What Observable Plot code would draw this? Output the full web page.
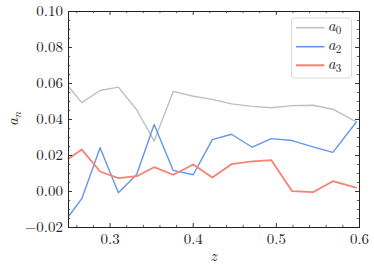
<!DOCTYPE html>
<html><head><meta charset="utf-8">
<script src="https://cdn.jsdelivr.net/npm/d3@7"></script>
<script src="https://cdn.jsdelivr.net/npm/@observablehq/plot@0.6"></script>
<style>
body{margin:0;background:#fff;}
</style>
</head><body><div id="chart"></div>
<script>
// ---- data ----
const z  = [0.25, 0.266, 0.288, 0.31, 0.332, 0.353, 0.376, 0.40, 0.423, 0.446, 0.471, 0.494, 0.519, 0.544, 0.568, 0.596];
const a0 = [0.0583, 0.0494, 0.0561, 0.0580, 0.0454, 0.0280, 0.0556, 0.0529, 0.0512, 0.0487, 0.0473, 0.0465, 0.0477, 0.0479, 0.0457, 0.0387];
const a2 = [-0.0139, -0.0040, 0.0243, -0.0007, 0.0094, 0.0372, 0.0117, 0.0093, 0.0288, 0.0318, 0.0246, 0.0294, 0.0283, 0.0248, 0.0217, 0.0385];
const a3 = [0.0182, 0.0233, 0.0111, 0.0074, 0.0085, 0.0135, 0.0093, 0.0150, 0.0078, 0.0152, 0.0167, 0.0174, 0.0002, -0.0004, 0.0057, 0.0022];

const seriesNames = ["0", "2", "3"];
const seriesColors = ["#bfbfbf", "#6495ed", "#fa8072"];
const seriesWidths = [1.4, 1.4, 1.8];
const seriesValues = [a0, a2, a3];

const xMajor = [0.3, 0.4, 0.5, 0.6];
const xMinor = [0.26, 0.28, 0.32, 0.34, 0.36, 0.38, 0.42, 0.44, 0.46, 0.48, 0.52, 0.54, 0.56, 0.58];
const yMajor = [-0.02, 0.00, 0.02, 0.04, 0.06, 0.08, 0.10];
const yMinor = [-0.015, -0.01, -0.005, 0.005, 0.01, 0.015, 0.025, 0.03, 0.035, 0.045, 0.05, 0.055, 0.065, 0.07, 0.075, 0.085, 0.09, 0.095];

// ---- layout ----
const W = 374, H = 271, mL = 68, mR = 15, mT = 11, mB = 44;
const pw = W - mL - mR, ph = H - mT - mB;
const ink = "#222";
const fs = 15;
const fontName = "Latin Modern Roman";

const lineMarks = seriesValues.map((vals, k) =>
  Plot.line(z.map((x, i) => ({z: x, a: vals[i]})), {x: "z", y: "a", stroke: seriesColors[k], strokeWidth: seriesWidths[k], strokeLinejoin: "round"})
);

const fmtY = d => (d < -1e-9 ? "\u2212" : "") + Math.abs(d).toFixed(2);

const chart = Plot.plot({
  width: W, height: H,
  marginLeft: mL, marginRight: mR, marginTop: mT, marginBottom: mB,
  x: {domain: [0.25, 0.6]},
  y: {domain: [-0.02, 0.10]},
  style: {fontSize: fs + "px", color: ink, background: "#fff", overflow: "visible"},
  marks: [
    ...lineMarks,
    Plot.tickX(xMajor, {x: d => d, insetTop: ph - 4, stroke: ink, strokeWidth: 0.9}),
    Plot.tickX(xMajor, {x: d => d, insetBottom: ph - 4, stroke: ink, strokeWidth: 0.9}),
    Plot.tickX(xMinor, {x: d => d, insetTop: ph - 2.2, stroke: ink, strokeWidth: 0.7}),
    Plot.tickX(xMinor, {x: d => d, insetBottom: ph - 2.2, stroke: ink, strokeWidth: 0.7}),
    Plot.tickY(yMajor, {y: d => d, insetRight: pw - 4, stroke: ink, strokeWidth: 0.9}),
    Plot.tickY(yMajor, {y: d => d, insetLeft: pw - 4, stroke: ink, strokeWidth: 0.9}),
    Plot.tickY(yMinor, {y: d => d, insetRight: pw - 2.2, stroke: ink, strokeWidth: 0.7}),
    Plot.tickY(yMinor, {y: d => d, insetLeft: pw - 2.2, stroke: ink, strokeWidth: 0.7}),
    Plot.axisX(xMajor, {tickSize: 0, tickPadding: 6, tickFormat: d => d.toFixed(1), fontSize: fs, fill: ink, label: null}),
    Plot.axisY(yMajor, {tickSize: 0, tickPadding: 5.5, tickFormat: fmtY, fontSize: fs, fill: ink, label: null}),
    Plot.frame({stroke: ink, strokeWidth: 1})
  ]
});
document.getElementById("chart").appendChild(chart);

// ---- axis titles and legend ----
const svg = d3.select(chart);
const yl = svg.append("text")
  .attr("transform", `translate(17.5,${mT + ph / 2}) rotate(-90)`)
  .attr("text-anchor", "middle").attr("fill", ink).attr("font-size", 15.5);
yl.append("tspan").attr("font-style", "italic").text("a");
yl.append("tspan").attr("font-style", "italic").attr("font-size", 11).attr("dy", 3).text("n");

svg.append("text")
  .attr("x", mL + pw / 2).attr("y", 260.5)
  .attr("text-anchor", "middle").attr("fill", ink)
  .attr("font-size", 16).attr("font-style", "italic").text("z");

const lg = svg.append("g");
lg.append("rect").attr("x", 291.5).attr("y", 18).attr("width", 60).attr("height", 60).attr("rx", 3)
  .attr("fill", "#fff").attr("fill-opacity", 0.8).attr("stroke", "#d6d6d6").attr("stroke-width", 0.9);
const rowY = [27.7, 46.7, 65.3];
seriesNames.forEach((name, k) => {
  lg.append("line").attr("x1", 296).attr("x2", 324.5).attr("y1", rowY[k]).attr("y2", rowY[k])
    .attr("stroke", seriesColors[k]).attr("stroke-width", seriesWidths[k] + 0.2);
  const t = lg.append("text").attr("x", 334.5).attr("y", rowY[k] + 3.5).attr("fill", ink).attr("font-size", 15.5);
  t.append("tspan").attr("font-style", "italic").text("a");
  t.append("tspan").attr("font-size", 11).attr("dy", 3).text(name);
});

svg.attr("font-family", fontName).style("font-family", fontName);
svg.selectAll("g, text").attr("font-family", fontName).style("font-family", fontName);
</script>
</body></html>
